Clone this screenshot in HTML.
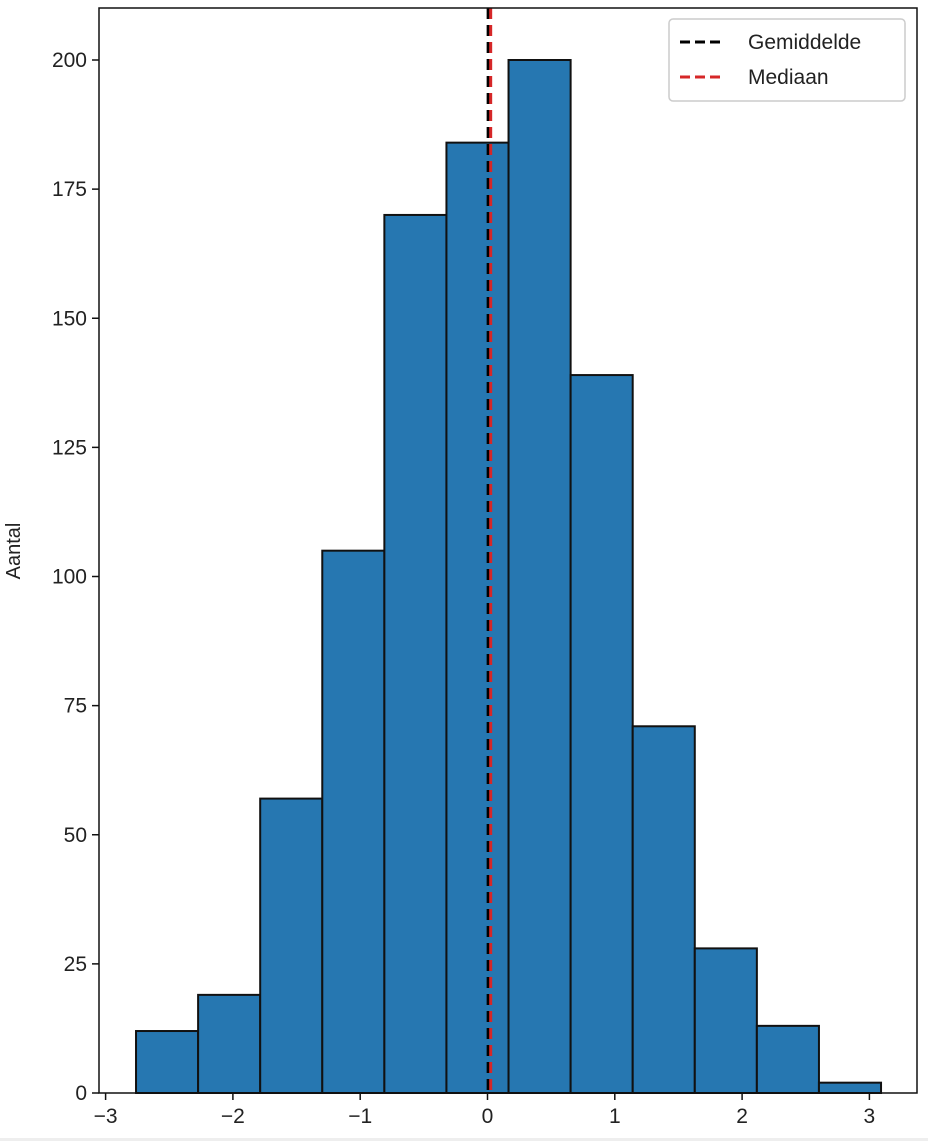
<!DOCTYPE html>
<html><head><meta charset="utf-8"><style>
body{margin:0;background:#fff;}
svg text{font-family:"Liberation Sans",sans-serif;fill:#222;}
</style></head><body>
<svg id="chart" width="928" height="1141" xmlns="http://www.w3.org/2000/svg">
<rect x="0" y="1138" width="928" height="3" fill="#eee"/>
</svg>
<script>
const binStart = -2.761;
const binWidth = 0.4877;
const counts = [12, 19, 57, 105, 170, 184, 200, 139, 71, 28, 13, 2];
const xTicks = [-3, -2, -1, 0, 1, 2, 3];
const yTicks = [0, 25, 50, 75, 100, 125, 150, 175, 200];
const meanVal = 0.005;
const medianVal = 0.025;

const svg = document.getElementById('chart');
const NS = 'http://www.w3.org/2000/svg';
const L = 99, R = 917, T = 8, B = 1093;
const sx = v => 487.5 + v * 127.3;
const sy = v => B - v * (1033 / 200);
function mk(tag, attrs, parent) {
  const e = document.createElementNS(NS, tag);
  for (const k in attrs) e.setAttribute(k, attrs[k]);
  (parent || svg).appendChild(e);
  return e;
}
counts.forEach((c, i) => {
  const x0 = sx(binStart + i * binWidth), x1 = sx(binStart + (i + 1) * binWidth);
  const r = mk('rect', {x: x0, y: sy(c), width: x1 - x0, height: B - sy(c), fill: '#2677b1', stroke: '#111', 'stroke-width': 2});
  
  
});
const ml = mk('line', {x1: sx(meanVal), x2: sx(meanVal), y1: T, y2: B, stroke: '#000', 'stroke-width': 3, 'stroke-dasharray': '11,6'});


const mdl = mk('line', {x1: sx(medianVal), x2: sx(medianVal), y1: T, y2: B, stroke: '#d62728', 'stroke-width': 3, 'stroke-dasharray': '11,6'});


const frame = mk('rect', {x: L, y: T, width: R - L, height: B - T, fill: 'none', stroke: '#111', 'stroke-width': 1.5});


xTicks.forEach(t => {
  const x = sx(t);
  mk('line', {x1: x, x2: x, y1: B, y2: B + 7, stroke: '#111', 'stroke-width': 1.5});
  const tx = mk('text', {x: x, y: B + 30, 'text-anchor': 'middle', 'font-size': 21});
  tx.textContent = t < 0 ? '−' + (-t) : String(t);
  
  
});
yTicks.forEach(t => {
  const y = sy(t);
  mk('line', {x1: L - 7, x2: L, y1: y, y2: y, stroke: '#111', 'stroke-width': 1.5});
  const tx = mk('text', {x: L - 12, y: y + 7, 'text-anchor': 'end', 'font-size': 21});
  tx.textContent = String(t);
  
  
});
const yl = mk('text', {x: 20, y: 551, 'text-anchor': 'middle', 'font-size': 20, transform: 'rotate(-90 20 551)'});
yl.textContent = 'Aantal';


const lg = mk('g', {});


mk('rect', {x: 669, y: 19, width: 236, height: 82, rx: 4, fill: '#fff', stroke: '#ccc', 'stroke-width': 1.5}, lg);
mk('line', {x1: 680, x2: 724, y1: 42, y2: 42, stroke: '#000', 'stroke-width': 3, 'stroke-dasharray': '10,5'}, lg);
mk('line', {x1: 680, x2: 724, y1: 77, y2: 77, stroke: '#d62728', 'stroke-width': 3, 'stroke-dasharray': '10,5'}, lg);
const t1 = mk('text', {x: 748, y: 49, 'font-size': 21}, lg);
t1.textContent = 'Gemiddelde';


const t2 = mk('text', {x: 748, y: 84, 'font-size': 21}, lg);
t2.textContent = 'Mediaan';


</script>
</body></html>
